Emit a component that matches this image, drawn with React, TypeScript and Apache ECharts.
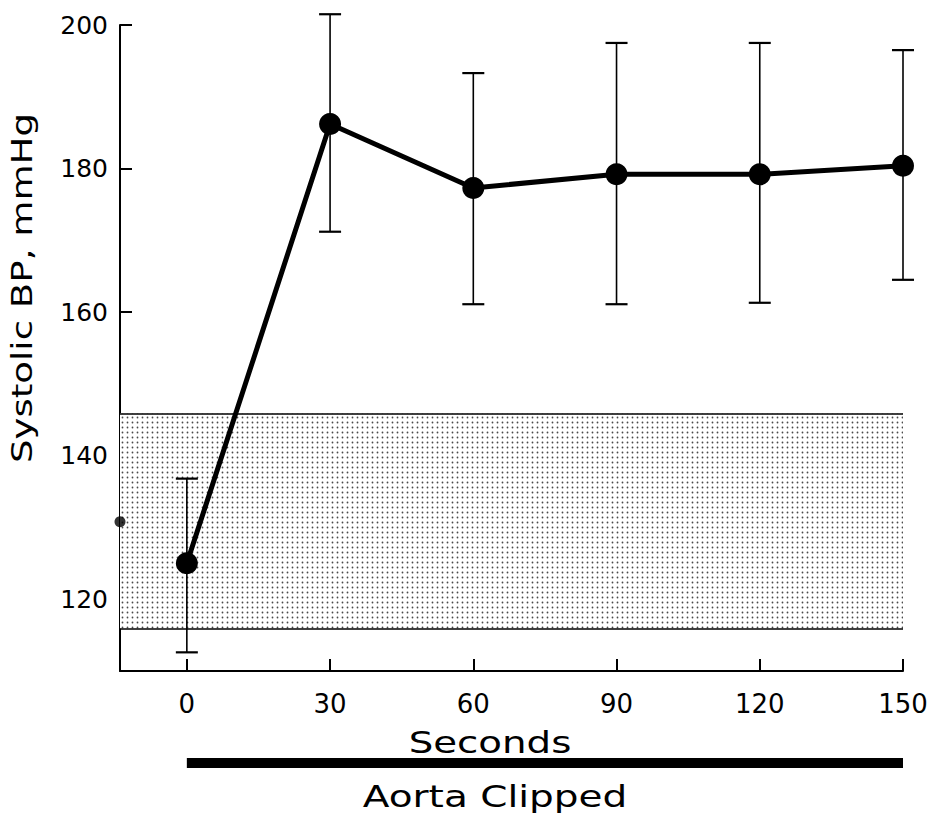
import React, { useEffect, useRef } from "react";
import * as echarts from "echarts";

// ---- data ----
const times = [0, 30, 60, 90, 120, 150];
const meanBP = [125, 186.2, 177.3, 179.2, 179.2, 180.4];
const lowerBP = [112.6, 171.2, 161.1, 161.1, 161.3, 164.5];
const upperBP = [136.8, 201.5, 193.3, 197.5, 197.5, 196.5];
const baselineTime = [-14];
const baselineBP = [130.8];
const normalRange = [115.9, 145.9];
const clipPeriod = [0, 150];
const xTickValues = [0, 30, 60, 90, 120, 150];
const yTickValues = [120, 140, 160, 180, 200];
const xRange = [-14, 150];
const yRange = [110, 200];

const FONT = "DejaVu Sans";

function makeDotPattern(): HTMLCanvasElement {
  const c = document.createElement("canvas");
  c.width = 5;
  c.height = 5;
  const ctx = c.getContext("2d")!;
  ctx.fillStyle = "#ffffff";
  ctx.fillRect(0, 0, 5, 5);
  ctx.fillStyle = "#4a4a4a";
  ctx.beginPath();
  ctx.arc(2.5, 2.5, 0.9, 0, Math.PI * 2);
  ctx.fill();
  return c;
}

export default function App() {
  const ref = useRef<HTMLDivElement>(null);

  useEffect(() => {
    if (!ref.current) return;
    const chart = echarts.init(ref.current, null, { renderer: "svg" });
    const pattern = makeDotPattern();

    const option: any = {
      animation: false,
      backgroundColor: "#ffffff",
      grid: [
        { left: 120, right: 28, top: 25, bottom: 146 },
        { left: 120, right: 28, top: 758, height: 10 },
      ],
      xAxis: [
        {
          type: "value",
          gridIndex: 0,
          min: xRange[0],
          max: xRange[1],
          axisLine: { show: true, onZero: false, lineStyle: { color: "#000", width: 2 } },
          axisTick: {
            show: true,
            inside: true,
            length: 12,
            customValues: xTickValues,
            lineStyle: { color: "#000", width: 2 },
          },
          axisLabel: {
            customValues: xTickValues,
            color: "#000",
            fontFamily: FONT,
            fontSize: 26,
            margin: 20,
          },
          splitLine: { show: false },
        },
        {
          type: "value",
          gridIndex: 1,
          min: xRange[0],
          max: xRange[1],
          show: false,
        },
      ],
      yAxis: [
        {
          type: "value",
          gridIndex: 0,
          min: yRange[0],
          max: yRange[1],
          axisLine: { show: true, onZero: false, lineStyle: { color: "#000", width: 2 } },
          axisTick: {
            show: true,
            inside: true,
            length: 12,
            customValues: yTickValues,
            lineStyle: { color: "#000", width: 2 },
          },
          axisLabel: {
            customValues: yTickValues,
            color: "#000",
            fontFamily: FONT,
            fontSize: 25,
            margin: 12,
          },
          splitLine: { show: false },
        },
        { type: "value", gridIndex: 1, min: 0, max: 1, show: false },
      ],
      series: [
        {
          name: "Normal range",
          type: "line",
          data: [],
          z: 1,
          markArea: {
            silent: true,
            itemStyle: { color: { image: pattern, repeat: "repeat" } as any, opacity: 1 },
            data: [[{ yAxis: normalRange[0] }, { yAxis: normalRange[1] }]],
          },
          markLine: {
            silent: true,
            symbol: ["none", "none"],
            label: { show: false },
            lineStyle: { color: "#000", width: 1.5, type: "solid" },
            data: [{ yAxis: normalRange[0] }, { yAxis: normalRange[1] }],
          },
        },
        {
          name: "SD",
          type: "custom",
          clip: false,
          z: 3,
          encode: { x: 0, y: [1, 2] },
          data: times.map((t, i) => [t, lowerBP[i], upperBP[i]]),
          renderItem: (params: any, api: any) => {
            const x = api.value(0);
            const pLo = api.coord([x, api.value(1)]);
            const pHi = api.coord([x, api.value(2)]);
            const cap = 11;
            const st = { stroke: "#000", lineWidth: 1.6 };
            return {
              type: "group",
              children: [
                { type: "line", shape: { x1: pLo[0], y1: pLo[1], x2: pHi[0], y2: pHi[1] }, style: st },
                { type: "line", shape: { x1: pLo[0] - cap, y1: pLo[1], x2: pLo[0] + cap, y2: pLo[1] }, style: { stroke: "#000", lineWidth: 2.2 } },
                { type: "line", shape: { x1: pHi[0] - cap, y1: pHi[1], x2: pHi[0] + cap, y2: pHi[1] }, style: { stroke: "#000", lineWidth: 2.2 } },
              ],
            };
          },
        },
        {
          name: "Systolic BP",
          type: "line",
          z: 4,
          data: times.map((t, i) => [t, meanBP[i]]),
          symbol: "circle",
          symbolSize: 22,
          showAllSymbol: true,
          itemStyle: { color: "#000" },
          lineStyle: { color: "#000", width: 5 },
        },
        {
          name: "Baseline",
          type: "scatter",
          z: 4,
          clip: false,
          data: baselineTime.map((t, i) => [t, baselineBP[i]]),
          symbolSize: 11,
          itemStyle: { color: "#000" },
        },
        {
          name: "Aorta clipped",
          type: "line",
          xAxisIndex: 1,
          yAxisIndex: 1,
          data: clipPeriod.map((t) => [t, 0.5]),
          symbol: "none",
          lineStyle: { color: "#000", width: 10, cap: "butt" },
        },
      ],
      graphic: [
        {
          type: "text",
          x: 22,
          y: 288,
          rotation: Math.PI / 2,
          scaleX: 1.28,
          style: {
            text: "Systolic BP, mmHg",
            fill: "#000",
            font: `29px '${FONT}'`,
            textAlign: "center",
            textVerticalAlign: "middle",
          },
        },
        {
          type: "text",
          x: 490,
          y: 742,
          scaleX: 1.25,
          style: {
            text: "Seconds",
            fill: "#000",
            font: `31px '${FONT}'`,
            textAlign: "center",
            textVerticalAlign: "middle",
          },
        },
        {
          type: "text",
          x: 495,
          y: 797,
          scaleX: 1.3,
          style: {
            text: "Aorta Clipped",
            fill: "#000",
            font: `30px '${FONT}'`,
            textAlign: "center",
            textVerticalAlign: "middle",
          },
        },
      ],
    };

    chart.setOption(option);
    return () => chart.dispose();
  }, []);

  return (
    <div
      ref={ref}
      style={{ position: "absolute", left: 0, top: 0, width: 931, height: 817, background: "#fff" }}
    />
  );
}
